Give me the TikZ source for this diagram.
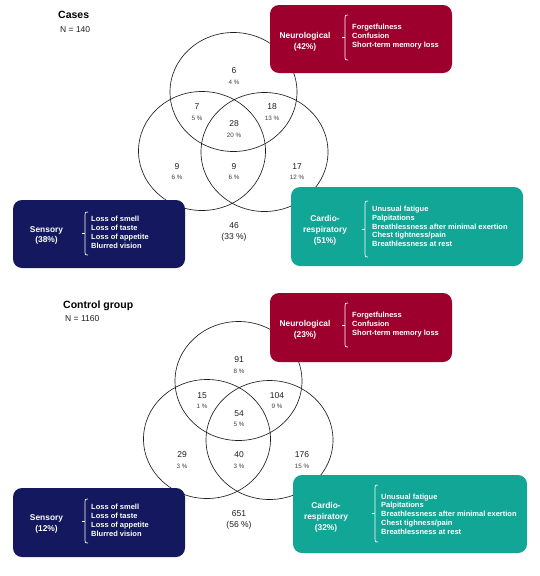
\documentclass[tikz,border=0pt]{standalone}
\usepackage{fontspec}
\setmainfont{Liberation Sans}
\usetikzlibrary{shapes.geometric}
\definecolor{neurocol}{RGB}{158,0,46}
\definecolor{senscol}{RGB}{20,24,94}
\definecolor{cardcol}{RGB}{18,166,150}
\definecolor{inkcol}{RGB}{30,30,30}
\newcommand{\mybrk}[3]{%
  \pgfmathsetmacro\mybrkmid{(#2+#3)/2}%
  \draw[brk] (#1+3,#2) .. controls (#1,#2) .. (#1,#2+3) -- (#1,#3-3) .. controls (#1,#3) .. (#1+3,#3);
  \draw[brk] (#1,\mybrkmid) -- (#1-3.5,\mybrkmid);}
\begin{document}
\begin{tikzpicture}[x=1pt,y=-1pt,
  circ/.style={ellipse,draw=inkcol,line width=0.65pt,inner sep=0pt,minimum width=127pt,minimum height=119pt},
  num/.style={inner sep=0pt,text=inkcol,font=\fontsize{8.5}{10}\selectfont},
  pct/.style={inner sep=0pt,text=inkcol!85,font=\fontsize{6.3}{7.5}\selectfont},
  grptitle/.style={inner sep=0pt,anchor=west,text=black,font=\fontsize{10.5}{12}\selectfont\bfseries},
  nlab/.style={inner sep=0pt,anchor=west,text=inkcol,font=\fontsize{8.5}{10}\selectfont},
  catbox/.style={rounded corners=9pt,inner sep=0pt},
  cattitle/.style={inner sep=0pt,align=center,text=white,font=\fontsize{8.4}{10.5}\selectfont\bfseries},
  items/.style={inner sep=0pt,anchor=west,align=left,text=white,font=\fontsize{7.5}{8.8}\selectfont\bfseries},
  brk/.style={draw=white,line width=0.7pt}
]
\useasboundingbox (0,0) rectangle (539,576);
\fill[white] (0,0) rectangle (539,576);

% ================= Cases =================
\node[grptitle] (casesT) at (58,15) {Cases};
\node[nlab] (casesN) at (60,30) {N = 140};

\node[circ] (topA) at (233.5,92) {};
\node[circ] (leftA) at (202,151) {};
\node[circ] (rightA) at (264.5,152) {};

\node[num] (nA1) at (234,71) {6};
\node[pct] (pA1) at (234,82) {4 \%};
\node[num] (nA2) at (197,107) {7};
\node[pct] (pA2) at (197,118) {5 \%};
\node[num] (nA3) at (272,107) {18};
\node[pct] (pA3) at (272,118) {13 \%};
\node[num] (nA4) at (234,124) {28};
\node[pct] (pA4) at (234,135) {20 \%};
\node[num] (nA5) at (177,167) {9};
\node[pct] (pA5) at (177,177) {6 \%};
\node[num] (nA6) at (234,167) {9};
\node[pct] (pA6) at (234,177) {6 \%};
\node[num] (nA7) at (297,167) {17};
\node[pct] (pA7) at (297,177) {12 \%};
\node[num] (nA8) at (234,226) {46};
\node[num] (pA8) at (234,237) {(33 \%)};

% Neurological
\node[catbox,fill=neurocol,minimum width=182pt,minimum height=68pt] (neuroA) at (361,39) {};
\node[cattitle] (neuroAt) at (305,42) {Neurological\\(42\%)};
\mybrk{345}{15}{60}
\node[items] (neuroAi) at (352,36.5) {Forgetfulness\\Confusion\\Short-term memory loss};

% Sensory
\node[catbox,fill=senscol,minimum width=172pt,minimum height=68pt] (sensA) at (99,234) {};
\node[cattitle] (sensAt) at (46.5,235.5) {Sensory\\(38\%)};
\mybrk{85}{212}{255}
\node[items] (sensAi) at (91,232.5) {Loss of smell\\Loss of taste\\Loss of appetite\\Blurred vision};

% Cardio-respiratory
\node[catbox,fill=cardcol,minimum width=232pt,minimum height=79pt] (cardA) at (407,226.5) {};
\node[cattitle,font=\fontsize{8.4}{11}\selectfont\bfseries] (cardAt) at (325,230) {Cardio-\\respiratory\\(51\%)};
\mybrk{365}{201}{257}
\node[items] (cardAi) at (372,226.5) {Unusual fatigue\\Palpitations\\Breathlessness after minimal exertion\\Chest tightness/pain\\Breathlessness at rest};

% ================= Control group =================
\node[grptitle] (ctrlT) at (63,306) {Control group};
\node[nlab] (ctrlN) at (65,319) {N = 1160};

\node[circ] (topB) at (238.5,381) {};
\node[circ] (leftB) at (207,439) {};
\node[circ] (rightB) at (269.5,440) {};

\node[num] (nB1) at (239,360) {91};
\node[pct] (pB1) at (239,371) {8 \%};
\node[num] (nB2) at (202,396) {15};
\node[pct] (pB2) at (202,406) {1 \%};
\node[num] (nB3) at (277,396) {104};
\node[pct] (pB3) at (277,406) {9 \%};
\node[num] (nB4) at (239,414) {54};
\node[pct] (pB4) at (239,424) {5 \%};
\node[num] (nB5) at (182,455) {29};
\node[pct] (pB5) at (182,466) {3 \%};
\node[num] (nB6) at (239,455) {40};
\node[pct] (pB6) at (239,466) {3 \%};
\node[num] (nB7) at (302,455) {176};
\node[pct] (pB7) at (302,466) {15 \%};
\node[num] (nB8) at (239,514) {651};
\node[num] (pB8) at (239,525) {(56 \%)};

% Neurological
\node[catbox,fill=neurocol,minimum width=182pt,minimum height=69pt] (neuroB) at (361,327.5) {};
\node[cattitle] (neuroBt) at (305,330) {Neurological\\(23\%)};
\mybrk{345}{303}{347}
\node[items] (neuroBi) at (352,324.5) {Forgetfulness\\Confusion\\Short-term memory loss};

% Sensory
\node[catbox,fill=senscol,minimum width=172pt,minimum height=69pt] (sensB) at (99,522.5) {};
\node[cattitle] (sensBt) at (46.5,524) {Sensory\\(12\%)};
\mybrk{85}{499}{543}
\node[items] (sensBi) at (91,520.5) {Loss of smell\\Loss of taste\\Loss of appetite\\Blurred vision};

% Cardio-respiratory
\node[catbox,fill=cardcol,minimum width=234pt,minimum height=78pt] (cardB) at (410,514) {};
\node[cattitle,font=\fontsize{8.4}{11}\selectfont\bfseries] (cardBt) at (326,517.5) {Cardio-\\respiratory\\(32\%)};
\mybrk{375}{485}{542}
\node[items] (cardBi) at (381,514) {Unusual fatigue\\Palpitations\\Breathlessness after minimal exertion\\Chest tighness/pain\\Breathlessness at rest};
\end{tikzpicture}
\end{document}
